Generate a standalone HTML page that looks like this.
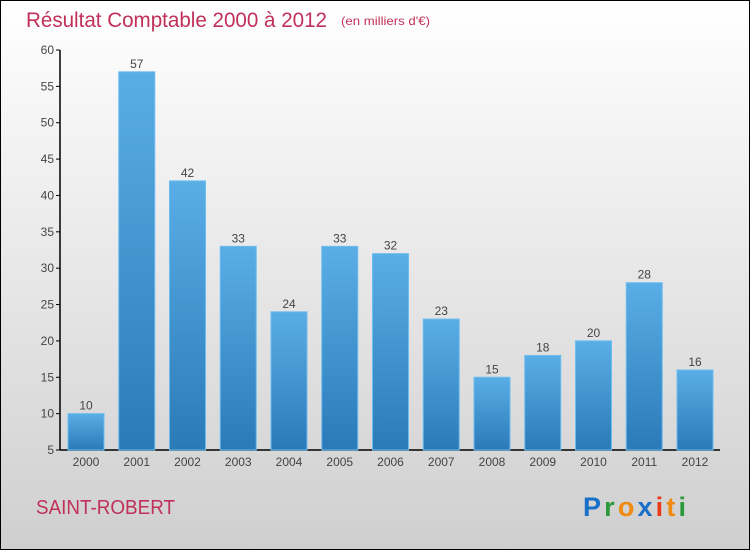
<!DOCTYPE html>
<html><head><meta charset="utf-8"><style>
html,body{margin:0;padding:0}
body{width:750px;height:550px;overflow:hidden;font-family:"Liberation Sans",sans-serif}
#frame{position:absolute;left:0;top:0;width:748px;height:548px;border:1px solid #000;background:linear-gradient(#ffffff,#cfcfcf)}
</style></head><body>
<div id="frame">
<svg width="750" height="550" style="position:absolute;left:-1px;top:-1px">
<defs><linearGradient id="bg" x1="0" y1="0" x2="0" y2="1"><stop offset="0" stop-color="#5aaee6"/><stop offset="1" stop-color="#2a7ab8"/></linearGradient></defs>
<text x="26" y="27" font-size="21" fill="#c0305a" textLength="301" lengthAdjust="spacingAndGlyphs">Résultat Comptable 2000 à 2012</text>
<text x="341" y="25" font-size="12" fill="#c0305a" textLength="89" lengthAdjust="spacingAndGlyphs">(en milliers d'€)</text>
<g id="plot"></g>
<text x="36" y="514" font-size="20" fill="#c0305a" textLength="139" lengthAdjust="spacingAndGlyphs">SAINT-ROBERT</text>
<text x="583" y="516" font-size="27" font-weight="bold" textLength="103" lengthAdjust="spacing"><tspan fill="#1a6fc8">P</tspan><tspan fill="#2a9a3a">r</tspan><tspan fill="#f08a10">o</tspan><tspan fill="#1a6fc8">x</tspan><tspan fill="#e83a1a">i</tspan><tspan fill="#f08a10">t</tspan><tspan fill="#2a9a3a">i</tspan></text>
</svg>
</div>
<script>
const categories=["2000","2001","2002","2003","2004","2005","2006","2007","2008","2009","2010","2011","2012"];
const values=[10,57,42,33,24,33,32,23,15,18,20,28,16];
const yTicks=[5,10,15,20,25,30,35,40,45,50,55,60];
const NS="http://www.w3.org/2000/svg";
const g=document.getElementById('plot');
const y0=450,yTop=50,ymin=5,ymax=60;
const y=v=>y0-(v-ymin)/(ymax-ymin)*(y0-yTop);
const x=i=>86+i*50.75;
function mk(t,a,p){const e=document.createElementNS(NS,t);for(const k in a)e.setAttribute(k,a[k]);(p||g).appendChild(e);return e;}
let ax=mk('line',{x1:60,y1:y0,x2:720,y2:y0,stroke:'#000','stroke-width':1.5});


let ay=mk('line',{x1:60,y1:yTop,x2:60,y2:y0,stroke:'#000','stroke-width':1.5});


yTicks.forEach(v=>{
  const tk=mk('line',{x1:56,y1:y(v),x2:60,y2:y(v),stroke:'#000'});
  
  
  const t=mk('text',{x:54,y:y(v)+4,'font-size':12,fill:'#444','text-anchor':'end'});
  t.textContent=v;
  
  
});
categories.forEach((c,i)=>{
  const v=values[i];
  const b=mk('rect',{x:x(i)-18,y:y(v),width:36,height:y0-y(v),fill:'url(#bg)',stroke:'#6bbcf0','stroke-width':1});
  
  
  const l=mk('text',{x:x(i),y:y(v)-4,'font-size':12,fill:'#444','text-anchor':'middle'});
  l.textContent=v;
  
  
  const xl=mk('text',{x:x(i),y:466,'font-size':12,fill:'#444','text-anchor':'middle'});
  xl.textContent=c;
  
  
});
</script>
</body></html>
